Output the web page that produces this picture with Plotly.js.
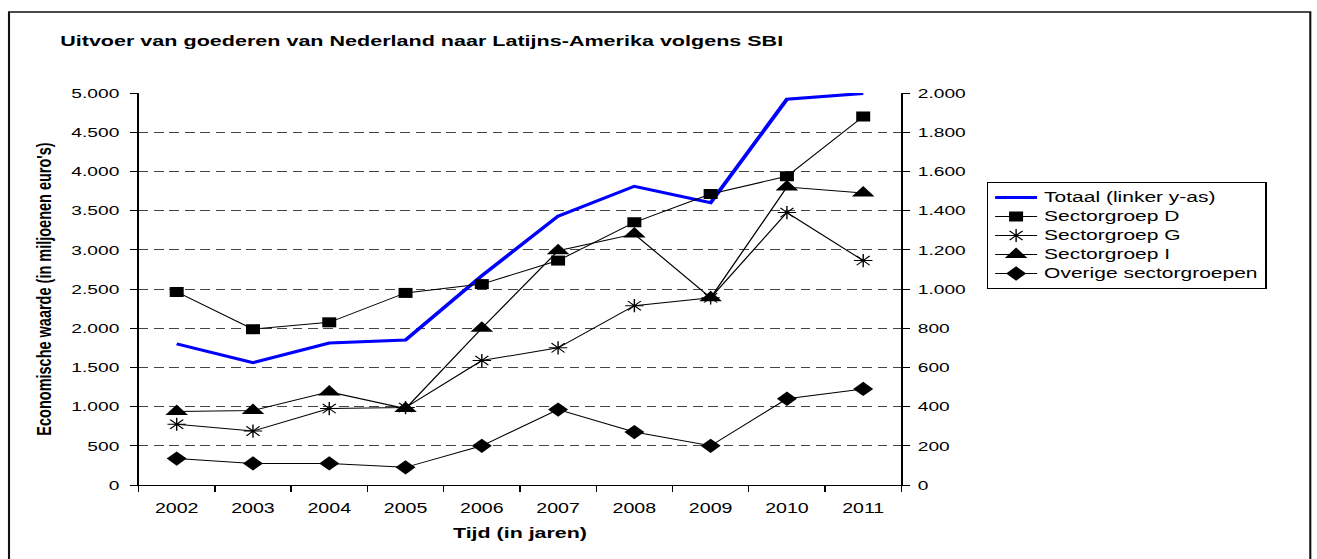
<!DOCTYPE html>
<html><head><meta charset="utf-8">
<script src="https://cdn.plot.ly/plotly-3.0.1.min.js"></script>
<style>
html,body{margin:0;padding:0;background:#fff;overflow:hidden;}
#wrap{width:1317px;height:559px;overflow:hidden;}
#chart{width:941px;height:559px;transform:scaleX(1.3996);transform-origin:0 0;}
</style></head><body><div id="wrap"><div id="chart"></div></div>
<script>
const years = ['2002','2003','2004','2005','2006','2007','2008','2009','2010','2011'];
const seriesNames = ['Totaal (linker y-as)','Sectorgroep D','Sectorgroep G','Sectorgroep I','Overige sectorgroepen'];
const totaal = [1800, 1560, 1810, 1850, 2670, 3430, 3810, 3600, 4920, 4995];
const sectorD = [985, 795, 830, 980, 1025, 1145, 1340, 1485, 1575, 1880];
const sectorG = [310, 275, 390, 395, 635, 700, 915, 955, 1390, 1145];
const sectorI = [375, 380, 475, 390, 800, 1195, 1280, 955, 1520, 1490];
const overige = [135, 110, 110, 90, 200, 385, 270, 200, 440, 490];

const FONT = '"Liberation Sans", Arial, Helvetica, sans-serif';
const W = 941, H = 559, L = 99, R = 297, T = 93, B = 74;
const PW = W - L - R, PH = H - T - B;
const px = x => (x - L) / PW;
const py = y => (H - B - y) / PH;
const nm = n => '<span style="font-size:15px">' + n + '</span>';

const blackLine = {color:'#000', width:1};
const traces = [
  {x: years, y: totaal, yaxis:'y', type:'scatter', mode:'lines', name: nm(seriesNames[0]),
   line:{color:'#0000FF', width:3}},
  {x: years, y: sectorD, yaxis:'y2', type:'scatter', mode:'lines+markers', name: nm(seriesNames[1]),
   line: blackLine, marker:{symbol:'square', size:10, color:'#000'}},
  {x: years, y: sectorG, yaxis:'y2', type:'scatter', mode:'lines+markers', name: nm(seriesNames[2]),
   line: blackLine, marker:{symbol:'asterisk-open', size:11, color:'#000', line:{color:'#000', width:1}}},
  {x: years, y: sectorI, yaxis:'y2', type:'scatter', mode:'lines+markers', name: nm(seriesNames[3]),
   line: blackLine, marker:{symbol:'triangle-up', size:14, color:'#000'}},
  {x: years, y: overige, yaxis:'y2', type:'scatter', mode:'lines+markers', name: nm(seriesNames[4]),
   line: blackLine, marker:{symbol:'diamond', size:11, color:'#000'}}
];

const layout = {
  width: W, height: H,
  margin: {l: L, r: R, t: T, b: B, pad: 0},
  paper_bgcolor: '#fff', plot_bgcolor: '#fff',
  separators: ',.',
  font: {family: FONT, color: '#000', size: 14},
  showlegend: true,
  title: {text: 'Uitvoer van goederen van Nederland naar Latijns-Amerika volgens SBI',
    font: {family: FONT, size: 15.4, weight: 'bold', color: '#000'},
    x: 43 / W, xanchor: 'left', xref: 'container',
    y: 1 - 41 / H, yanchor: 'middle', yref: 'container'},
  xaxis: {type: 'category', range: [-0.5, 9.5], tickson: 'boundaries',
    ticks: 'outside', ticklen: 6, tickcolor: '#000', tickwidth: 1,
    showline: true, linecolor: '#000', linewidth: 1, showgrid: false, zeroline: false,
    tickfont: {size: 14}, ticklabelstandoff: 10,
    title: {text: 'Tijd (in jaren)', font: {size: 15.3, weight: 'bold'}, standoff: 12}},
  yaxis: {range: [0, 5000], dtick: 500, tick0: 0, tickformat: ',.0f',
    ticks: 'outside', ticklen: 5, tickcolor: '#000', tickwidth: 1,
    showline: true, linecolor: '#000', linewidth: 1,
    showgrid: true, gridcolor: '#444', gridwidth: 1, griddash: '7px,4px', zeroline: false,
    tickfont: {size: 13.7}, ticklabelstandoff: 5,
    title: {text: "Economische waarde (in miljoenen euro's)", font: {size: 14.5, weight: 'bold'}, standoff: 10}},
  yaxis2: {overlaying: 'y', side: 'right', range: [0, 2000], dtick: 200, tick0: 0, tickformat: ',.0f',
    ticks: 'outside', ticklen: 5, tickcolor: '#000', tickwidth: 1,
    showline: true, linecolor: '#000', linewidth: 1, showgrid: false, zeroline: false,
    tickfont: {size: 13.7}, ticklabelstandoff: 3},
  legend: {xref: 'container', yref: 'container', x: 705 / W, xanchor: 'left',
    y: 1 - 235.5 / H, yanchor: 'middle', bordercolor: '#000', borderwidth: 1, bgcolor: '#fff',
    font: {size: 10.3, color: '#000'}, traceorder: 'normal'},
  shapes: [{type: 'rect', xref: 'paper', yref: 'paper',
    x0: px(6.43), x1: px(936.2), y0: py(563), y1: py(12),
    line: {color: '#111', width: 1.5}, fillcolor: 'rgba(0,0,0,0)', layer: 'above'}]
};

Plotly.newPlot('chart', traces, layout, {staticPlot: true, displayModeBar: false});
</script>
</body></html>
